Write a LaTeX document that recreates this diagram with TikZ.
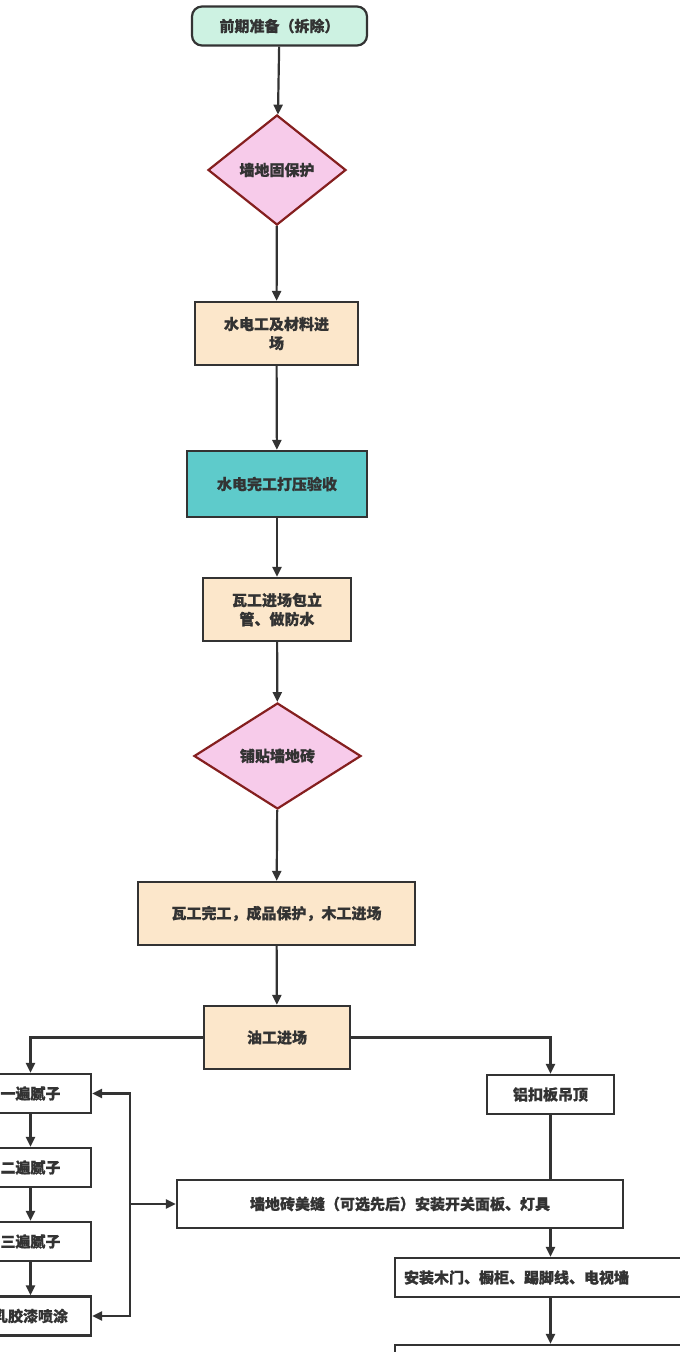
\documentclass[tikz,border=0pt]{standalone}
\usepackage{fontspec}
\setmainfont{Noto Sans CJK SC}[FakeBold=0.6]
\usetikzlibrary{shapes.geometric,arrows.meta}
\definecolor{mint}{HTML}{CDF2E2}
\definecolor{pinkf}{HTML}{F7CBEA}
\definecolor{peach}{HTML}{FCE7CB}
\definecolor{teal}{HTML}{5ECBCB}
\definecolor{ln}{HTML}{333333}
\begin{document}
\begin{tikzpicture}[x=1pt,y=-1pt,
  every node/.style={font=\fontsize{15}{19}\selectfont\bfseries, text=ln},
  box/.style={draw=ln, line width=2.2pt, align=center, inner sep=0pt},
  arr/.style={draw=ln, line width=2.2pt, -{Triangle[length=10pt,width=9pt]}},
  ln/.style={draw=ln, line width=2.2pt}]
\useasboundingbox (0,0) rectangle (680,1352);
\clip (0,0) rectangle (680,1352);
\fill[white] (0,0) rectangle (680,1352);
\node[box, rounded corners=10pt, fill=mint, minimum width=175pt, minimum height=39pt] (s) at (279.5,26) {前期准备（拆除）};
\node[diamond, draw=ln!60!red, line width=2.2pt, fill=pinkf, minimum width=138pt, minimum height=110pt, inner sep=0pt] (d1) at (277,170) {墙地固保护};
\node[box, fill=peach, minimum width=163pt, minimum height=63pt] (b1) at (276.5,333.5) {水电工及材料进\\场};
\node[box, fill=teal, minimum width=180pt, minimum height=66pt] (b2) at (277,484) {水电完工打压验收};
\node[box, fill=peach, minimum width=148pt, minimum height=63pt] (b3) at (277,609.5) {瓦工进场包立\\管、做防水};
\node[diamond, draw=ln!60!red, line width=2.2pt, fill=pinkf, minimum width=167pt, minimum height=106pt, inner sep=0pt] (d2) at (277.5,756) {铺贴墙地砖};
\node[box, fill=peach, minimum width=277pt, minimum height=63pt] (b4) at (276.5,913.5) {瓦工完工，成品保护，木工进场};
\node[box, fill=peach, minimum width=146pt, minimum height=63pt] (b5) at (277,1037.5) {油工进场};
\node[box, fill=white, minimum width=121pt, minimum height=39pt] (l1) at (30.5,1093.5) {一遍腻子};
\node[box, fill=white, minimum width=121pt, minimum height=39pt] (l2) at (30.5,1167.5) {二遍腻子};
\node[box, fill=white, minimum width=121pt, minimum height=39pt] (l3) at (30.5,1241.5) {三遍腻子};
\node[box, fill=white, minimum width=121pt, minimum height=39pt] (l4) at (30.5,1316) {乳胶漆喷涂};
\node[box, fill=white, minimum width=127pt, minimum height=39pt] (r1) at (550.5,1094.5) {铝扣板吊顶};
\node[box, fill=white, minimum width=446pt, minimum height=48pt] (m) at (400,1204) {墙地砖美缝（可选先后）安装开关面板、灯具};
\node[box, fill=white, minimum width=310pt, minimum height=39pt, text width=292pt, align=left] (r2) at (550,1277.5) {安装木门、橱柜、踢脚线、电视墙};
\node[box, fill=white, minimum width=310pt, minimum height=39pt] (r3) at (550,1364.5) {};
\coordinate (bx) at (130,1204);
\draw[arr] (s) -- (d1);
\draw[arr] (d1) -- (b1);
\draw[arr] (b1) -- (b2);
\draw[arr] (b2) -- (b3);
\draw[arr] (b3) -- (d2);
\draw[arr] (d2) -- (b4);
\draw[arr] (b4) -- (b5);
\draw[arr] (b5.west) -| (l1.north);
\draw[arr] (b5.east) -| (r1.north);
\draw[arr] (l1) -- (l2);
\draw[arr] (l2) -- (l3);
\draw[arr] (l3) -- (l4);
\draw[arr] (bx) |- (l1.east);
\draw[arr] (bx) |- (l4.east);
\draw[arr] (bx) -- (m.west);
\draw[ln] (r1.south) -- (r1.south |- m.north);
\draw[arr] (m.south -| r1) -- (r2.north -| r1);
\draw[arr] (r2.south -| r1) -- (r3.north -| r1);
\end{tikzpicture}
\end{document}
